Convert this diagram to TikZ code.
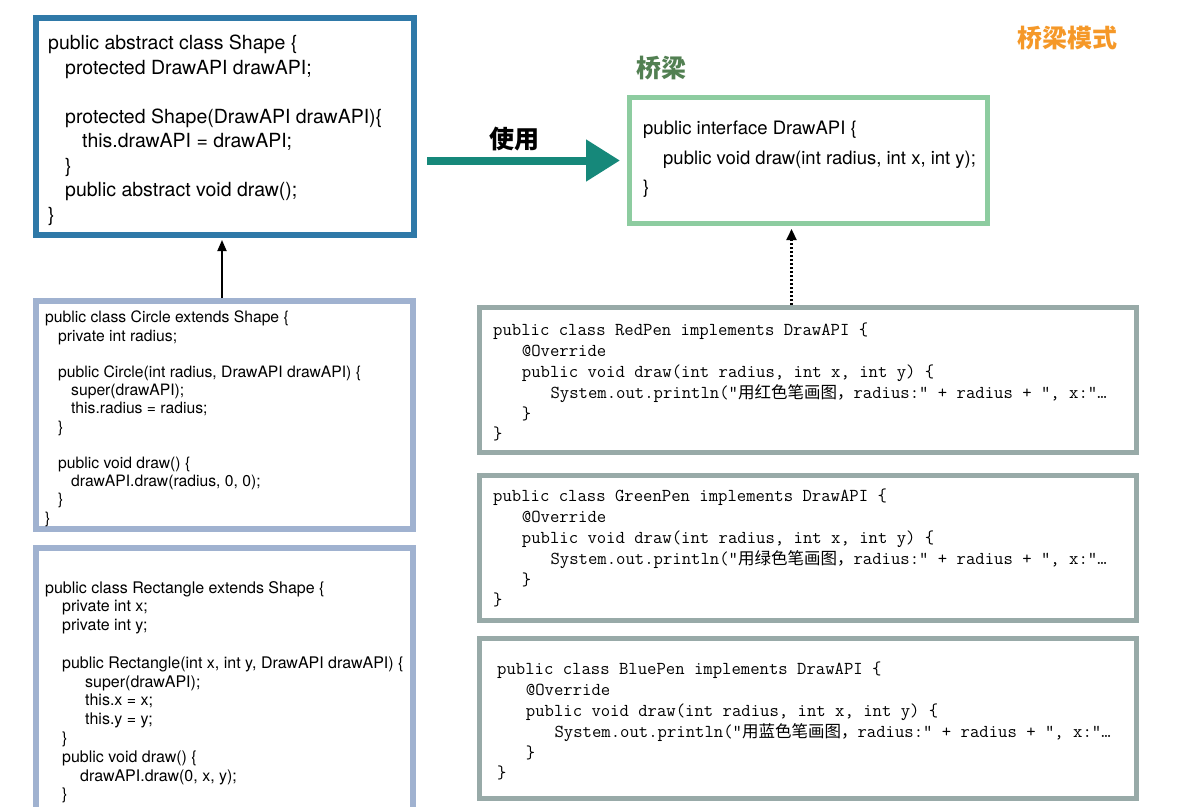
\documentclass[tikz,border=0pt]{standalone}
\usepackage{fontspec}
\setmainfont{TeX Gyre Heros}
\newfontfamily\cjk{Noto Sans CJK SC}
\usetikzlibrary{arrows.meta,calc}
\definecolor{shapeblue}{RGB}{47,121,168}
\definecolor{apigreen}{RGB}{141,204,160}
\definecolor{subblue}{RGB}{160,178,208}
\definecolor{pengray}{RGB}{152,170,168}
\definecolor{arrowteal}{RGB}{22,136,122}
\definecolor{bridgegreen}{RGB}{82,128,82}
\definecolor{titleorange}{RGB}{245,152,40}
\newcommand{\zh}[1]{{\cjk\fontsize{16.5}{20.8}\selectfont #1}}
\tikzset{
  box/.style={draw, rectangle, inner sep=0pt, anchor=north west, fill=white},
  code/.style={anchor=north west, inner sep=0pt, align=left, text=black},
  mono/.style={code, font=\ttfamily\fontsize{18.2}{20.8}\selectfont},
  title/.style={inner sep=0pt, font=\cjk\bfseries\fontsize{25}{30}\selectfont},
}
\begin{document}
\begin{tikzpicture}[x=1pt,y=-1pt]
\useasboundingbox[fill=white] (0,0) rectangle (1196,806);

% boxes (positions are outer corners)
\node[box, draw=shapeblue, line width=6pt, minimum width=378pt, minimum height=217pt] (shape) at (33,15) {};
\node[box, draw=apigreen, line width=5pt, minimum width=358pt, minimum height=126pt] (api) at (627,95) {};
\node[box, draw=subblue, line width=6pt, minimum width=377pt, minimum height=228pt] (circle) at (33,298) {};
\node[box, draw=subblue, line width=6pt, minimum width=377pt, minimum height=300pt] (rect) at (33,545) {};
\node[box, draw=pengray, line width=5pt, minimum width=657pt, minimum height=145pt] (red) at (477,305) {};
\node[box, draw=pengray, line width=5pt, minimum width=657pt, minimum height=145pt] (green) at (477,473) {};
\node[box, draw=pengray, line width=5pt, minimum width=657pt, minimum height=160pt] (blue) at (477,636) {};

% texts
\node[code, font=\fontsize{19.5}{24.5}\selectfont] (shapetxt) at (48,35) {%
public abstract class Shape \{\\
\hspace*{17pt}protected DrawAPI drawAPI;\\[24.5pt]
\hspace*{17pt}protected Shape(DrawAPI drawAPI)\{\\
\hspace*{34pt}this.drawAPI = drawAPI;\\
\hspace*{17pt}\}\\
\hspace*{17pt}public abstract void draw();\\
\}};

\node[code, font=\fontsize{18.5}{29.5}\selectfont] (apitxt) at (643,121) {%
public interface DrawAPI \{\\
\hspace*{20pt}public void draw(int radius, int x, int y);\\
\}};

\node[code, font=\fontsize{15.7}{18.2}\selectfont] (circletxt) at (45,311) {%
public class Circle extends Shape \{\\
\hspace*{13pt}private int radius;\\[18.2pt]
\hspace*{13pt}public Circle(int radius, DrawAPI drawAPI) \{\\
\hspace*{26pt}super(drawAPI);\\
\hspace*{26pt}this.radius = radius;\\
\hspace*{13pt}\}\\[18.2pt]
\hspace*{13pt}public void draw() \{\\
\hspace*{26pt}drawAPI.draw(radius, 0, 0);\\
\hspace*{13pt}\}\\
\}};

\node[code, font=\fontsize{16}{18.8}\selectfont] (recttxt) at (45,581) {%
public class Rectangle extends Shape \{\\
\hspace*{17pt}private int x;\\
\hspace*{17pt}private int y;\\[18.8pt]
\hspace*{17pt}public Rectangle(int x, int y, DrawAPI drawAPI) \{\\
\hspace*{40pt}super(drawAPI);\\
\hspace*{40pt}this.x = x;\\
\hspace*{40pt}this.y = y;\\
\hspace*{17pt}\}\\
\hspace*{17pt}public void draw() \{\\
\hspace*{35pt}drawAPI.draw(0, x, y);\\
\hspace*{17pt}\}};

\node[mono] (redtxt) at (493,323) {%
public class RedPen implements DrawAPI \{\\
\hspace*{28.7pt}@Override\\
\hspace*{28.7pt}public void draw(int radius, int x, int y) \{\\
\hspace*{57.4pt}System.out.println(“\zh{用红色笔画图，}radius:" + radius + ", x:”…\\
\hspace*{28.7pt}\}\\
\}};

\node[mono] (greentxt) at (493,489) {%
public class GreenPen implements DrawAPI \{\\
\hspace*{28.7pt}@Override\\
\hspace*{28.7pt}public void draw(int radius, int x, int y) \{\\
\hspace*{57.4pt}System.out.println("\zh{用绿色笔画图，}radius:" + radius + ", x:”…\\
\hspace*{28.7pt}\}\\
\}};

\node[mono] (bluetxt) at (497,662) {%
public class BluePen implements DrawAPI \{\\
\hspace*{28.7pt}@Override\\
\hspace*{28.7pt}public void draw(int radius, int x, int y) \{\\
\hspace*{57.4pt}System.out.println("\zh{用蓝色笔画图，}radius:" + radius + ", x:"…\\
\hspace*{28.7pt}\}\\
\}};

% titles
\node[title, text=titleorange] (modetitle) at (1067,38) {桥梁模式};
\node[title, text=bridgegreen] (bridgetitle) at (661,68) {桥梁};
\node[title, text=black] (uselabel) at (514,139) {使用};

% connectors
\draw[arrowteal, line width=8pt, -{Triangle[length=34pt,width=40pt]}, shorten <=10pt, shorten >=7pt]
  (shape.east |- api.west) -- (api.west);
\draw[black, line width=1.8pt, -{Triangle[length=11pt,width=9pt]}, shorten >=2pt]
  ([xshift=-2.5pt]circle.north) -- ([xshift=-2.5pt]circle.north |- shape.south);
\draw[black, line width=2.2pt, dash pattern=on 2pt off 2pt, -{Triangle[length=11pt,width=10pt]}, shorten >=3pt]
  ([xshift=-16.5pt]red.north) -- ([xshift=-16.5pt]red.north |- api.south);
\end{tikzpicture}
\end{document}
